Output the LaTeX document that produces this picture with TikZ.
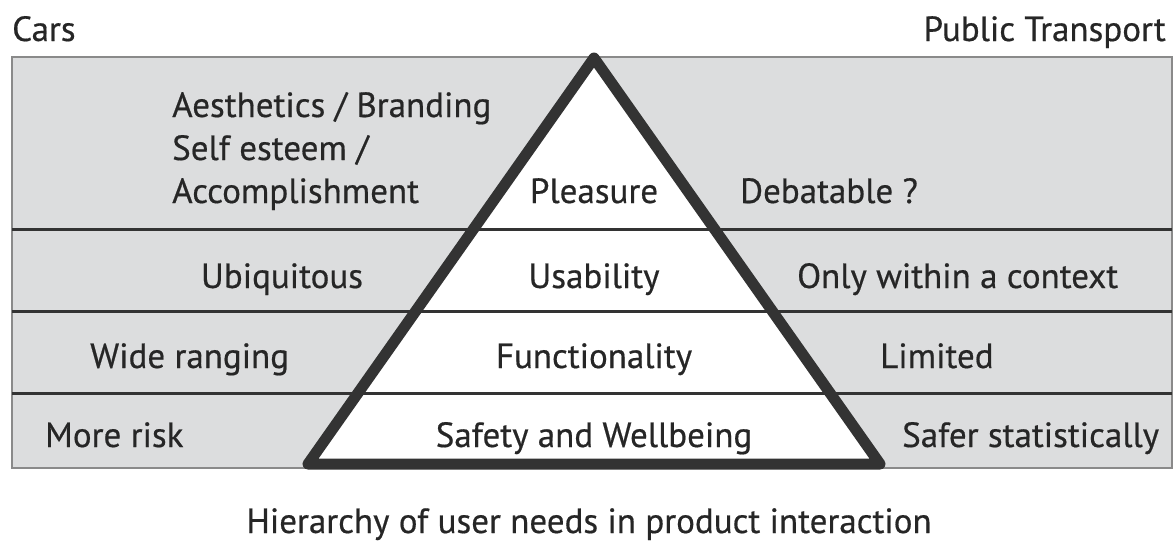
\documentclass[tikz,border=0pt]{standalone}
\usepackage{fontspec}
\setmainfont{PT Sans}[FakeBold=0.5]
\definecolor{panel}{HTML}{DCDDDE}
\definecolor{rim}{HTML}{8A8A8A}
\definecolor{ink}{HTML}{333333}
\definecolor{txt}{HTML}{262626}
\begin{document}
\begin{tikzpicture}[x=1pt,y=-1pt,
  lbl/.style={inner sep=0pt, text=txt, font=\fontsize{35}{43}\selectfont},
  divider/.style={draw=ink, line width=3pt},
  pyramid/.style={draw=ink, line width=11pt, line join=round}]
\useasboundingbox (0,0) rectangle (1176,544);
% shaded panel
\fill[panel] (12,57) rectangle (1172,468);
% pyramid interior
\coordinate (apex) at (594,58);
\coordinate (bl) at (308,464);
\coordinate (br) at (880,464);
\fill[white] (apex) -- (bl) -- (br) -- cycle;
% panel outline
\draw[rim, line width=1.6pt] (12,57) rectangle (1172,468);
% row dividers
\draw[divider] (12,229) -- (1172,229);
\draw[divider] (12,311) -- (1172,311);
\draw[divider] (12,393) -- (1172,393);
% pyramid outline
\draw[pyramid] (apex) -- (bl) -- (br) -- cycle;
% headings
\node[lbl, anchor=base west] (cars) at (12,41) {Cars};
\node[lbl, anchor=base east] (pt) at (1166,41) {Public Transport};
% pleasure row
\node[lbl, anchor=base west, align=left] (aest) at (172,203) {Aesthetics / Branding\\Self esteem /\\Accomplishment};
\node[lbl, anchor=base] (plea) at (594,203) {Pleasure};
\node[lbl, anchor=base west] (deb) at (740,203) {Debatable ?};
% usability row
\node[lbl, anchor=base] (ubi) at (282,288) {Ubiquitous};
\node[lbl, anchor=base] (usa) at (594,288) {Usability};
\node[lbl, anchor=base west] (ctx) at (797,288) {Only within a context};
% functionality row
\node[lbl, anchor=base west] (wide) at (90,368) {Wide ranging};
\node[lbl, anchor=base] (func) at (594,368) {Functionality};
\node[lbl, anchor=base west] (lim) at (880,368) {Limited};
% safety row
\node[lbl, anchor=base west] (risk) at (45,447) {More risk};
\node[lbl, anchor=base] (safe) at (594,447) {Safety and Wellbeing};
\node[lbl, anchor=base west] (stat) at (902,447) {Safer statistically};
% caption
\node[lbl, anchor=base] (cap) at (589,533) {Hierarchy of user needs in product interaction};
\end{tikzpicture}
\end{document}
